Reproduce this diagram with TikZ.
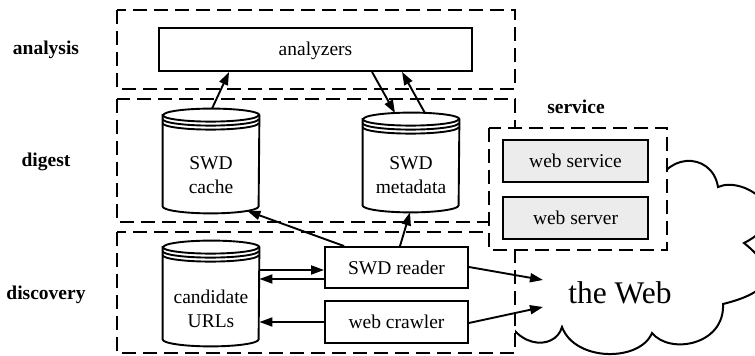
\documentclass[tikz,border=0pt]{standalone}
\usepackage{fontspec}
\setmainfont{Liberation Serif}
\usetikzlibrary{arrows.meta,calc}
\newlength\pxu
\setlength\pxu{0.5pt}
\newcommand\fsz{\fontsize{9.75}{12}\selectfont}
\newcommand\dbshape[1]{%
  \draw[line width=0.95pt] ($(#1.north west)+(0,6.5)$) -- ($(#1.south west)+(0,-7)$)
    arc[start angle=180,end angle=0,x radius=48,y radius=7]
    -- ($(#1.north east)+(0,6.5)$)
    arc[start angle=0,end angle=-180,x radius=48,y radius=6.5] -- cycle;
  \foreach \dd in {0,4,8}
    \draw[line width=0.95pt] ($(#1.north west)+(0,6.5+\dd)$) arc[start angle=180,end angle=0,x radius=48,y radius=6.5];
}
\begin{document}
\begin{tikzpicture}[x=0.5pt,y=-0.5pt,
  dbox/.style={draw, line width=1pt, dash pattern=on 7pt off 3.5pt},
  box/.style={draw, rectangle, line width=0.95pt, inner sep=0pt, font=\fsz},
  graybox/.style={box, fill=gray!15},
  dbnode/.style={rectangle, inner sep=0pt, minimum width=96\pxu},
  dbtext/.style={align=center, font=\fsz, inner sep=0pt},
  lbl/.style={font=\fsz\bfseries, inner sep=0pt},
  arr/.style={-{Triangle[length=6.5pt,width=4.5pt]}, line width=0.95pt}]
\useasboundingbox (0,0) rectangle (755,356);

% cloud (behind)
\begin{scope}
\clip (0,0) rectangle (755,356);
\draw[line width=1pt, fill=white] (655,195) .. controls (660,152) and (712,150) .. (718,187)
  .. controls (745,175) and (800,215) .. (744,243)
  .. controls (775,268) and (780,290) .. (723,304)
  .. controls (725,345) and (670,355) .. (652,333)
  .. controls (640,362) and (575,362) .. (562,327)
  .. controls (555,352) and (510,350) .. (500,300)
  -- (505,240) -- (505,185) -- cycle;
\end{scope}

% group boxes
\draw[dbox] (117,10) rectangle (515,89);
\draw[dbox] (117,99) rectangle (515,222);
\draw[dbox, fill=white] (117,232) rectangle (515,353);
\draw[dbox, fill=white] (489,128) rectangle (667,250);

% labels
\node[lbl] (lanalysis) at (46,50) {analysis};
\node[lbl] (ldigest) at (46,162) {digest};
\node[lbl] (ldiscovery) at (46,295) {discovery};
\node[lbl] (lservice) at (576,107) {service};

% nodes
\node[box, minimum width=313\pxu, minimum height=43\pxu, text height=7pt, text depth=1.2pt] (analyzers) at (315.5,49.5) {analyzers};
\node[dbnode, minimum height=104\pxu] (cache) at (211,161) {};
\node[dbnode, minimum height=99\pxu] (metadata) at (411,162.5) {};
\node[dbnode, minimum height=105\pxu] (candidate) at (211,293.5) {};
\dbshape{cache}
\dbshape{metadata}
\dbshape{candidate}
\node[dbtext] (cachetxt) at (211,175) {SWD\\cache};
\node[dbtext] (metatxt) at (411,175) {SWD\\metadata};
\node[dbtext] (candtxt) at (211,308.5) {candidate\\URLs};
\node[box, minimum width=143\pxu, minimum height=41\pxu] (reader) at (396.5,267.5) {SWD reader};
\node[box, minimum width=143\pxu, minimum height=42\pxu] (crawler) at (396.5,322) {web crawler};
\node[graybox, minimum width=145\pxu, minimum height=42\pxu] (wservice) at (575.5,161) {web service};
\node[graybox, minimum width=145\pxu, minimum height=42\pxu] (wserver) at (575.5,218) {web server};
\node[font=\fontsize{15.75}{18}\selectfont, inner sep=0pt] (web) at (620,293) {the Web};

% connectors
\draw[arr] ($(cache.north)+(1,0)$) -- ($(analyzers.south west)+(71,0)$);
\draw[arr] ($(analyzers.south west)+(214,0)$) -- ($(metadata.north)+(-16,0.5)$);
\draw[arr] ($(metadata.north)+(14,0.5)$) -- ($(analyzers.south west)+(244,0)$);
\draw[arr] ($(reader.north west)+(20,0)$) -- ($(cache.south east)+(-12,-2.4)$);
\draw[arr] ($(reader.north)+(3.5,0)$) -- ($(metadata.south)+(-1,0)$);
\coordinate (rin) at ($(reader.west)+(0,2.5)$);
\coordinate (rout) at ($(reader.west)+(0,11.5)$);
\draw[arr] (candidate.east |- rin) -- (rin);
\draw[arr] (rout) -- (candidate.east |- rout);
\draw[arr] (crawler.west) -- (crawler.west -| candidate.east);
\draw[arr] ($(reader.east)+(0,-0.5)$) -- ($(web.center)+(-77,-13)$);
\draw[arr] ($(crawler.east)+(0,1)$) -- ($(web.center)+(-77,14)$);
\end{tikzpicture}
\end{document}
